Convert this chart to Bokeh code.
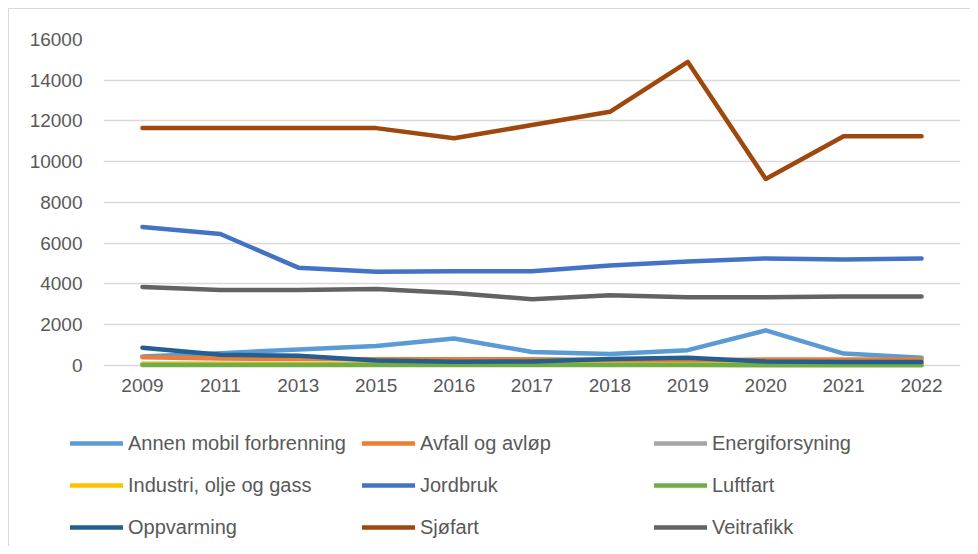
from bokeh.plotting import figure
from bokeh.layouts import column
from bokeh.models import Range1d, FixedTicker, Legend, LegendItem
from bokeh.embed import file_html
from bokeh.resources import INLINE

years = ["2009", "2011", "2013", "2015", "2016", "2017", "2018", "2019", "2020", "2021", "2022"]

names = ["Annen mobil forbrenning", "Avfall og avløp", "Energiforsyning",
         "Industri, olje og gass", "Jordbruk", "Luftfart",
         "Oppvarming", "Sjøfart", "Veitrafikk"]
colors = ["#5B9BD5", "#ED7D31", "#A5A5A5", "#FFC000", "#4472C4", "#70AD47",
          "#255E91", "#9E480E", "#636363"]

annen = [440, 600, 780, 950, 1320, 660, 560, 750, 1720, 580, 380]
avfall = [400, 340, 320, 300, 300, 300, 260, 240, 290, 290, 290]
energi = [80, 80, 70, 70, 60, 60, 60, 60, 50, 50, 50]
industri = [60, 60, 60, 50, 50, 50, 50, 50, 40, 40, 40]
jordbruk = [6800, 6450, 4800, 4600, 4620, 4620, 4900, 5100, 5250, 5200, 5250]
luftfart = [20, 20, 20, 20, 20, 20, 20, 20, 10, 10, 10]
oppvarming = [870, 520, 470, 240, 180, 190, 320, 370, 190, 170, 170]
sjofart = [11650, 11650, 11650, 11650, 11150, 11800, 12450, 14900, 9150, 11250, 11250]
veitrafikk = [3850, 3700, 3700, 3750, 3550, 3250, 3450, 3350, 3350, 3380, 3380]

series = [annen, avfall, energi, industri, jordbruk, luftfart, oppvarming, sjofart, veitrafikk]
y_ticks = [0, 2000, 4000, 6000, 8000, 10000, 12000, 14000, 16000]

FONT = "Liberation Sans"
TXT = "#595959"

# main chart
p = figure(x_range=years, y_range=Range1d(-250, 16000),
           width=961, height=391,
           output_backend="svg", toolbar_location=None,
           min_border_left=94, min_border_right=10,
           min_border_top=30, min_border_bottom=30)
p.frame_align = False

p.outline_line_color = None
p.xgrid.visible = False
p.ygrid.grid_line_color = "#d9d9d9"
p.ygrid.grid_line_width = 1.3
p.yaxis.ticker = FixedTicker(ticks=y_ticks)

for ax in (p.xaxis, p.yaxis):
    ax.axis_line_color = None
    ax.major_tick_line_color = None
    ax.minor_tick_line_color = None
    ax.major_tick_out = 0
    ax.major_tick_in = 0
    ax.minor_tick_out = 0
    ax.major_label_text_color = TXT
    ax.major_label_text_font = FONT
    ax.major_label_text_font_size = "19px"
p.yaxis.major_label_standoff = 21
p.xaxis.major_label_standoff = 8

for col, vals in zip(colors, series):
    p.line(x=years, y=vals, line_color=col, line_width=4.5,
           line_cap="round", line_join="round")

# legend strip (its lines lie outside the visible range; only the legend shows)
pl = figure(x_range=years, y_range=Range1d(1e6, 2e6),
            width=961, height=146,
            output_backend="svg", toolbar_location=None,
            x_axis_type=None, y_axis_type=None,
            min_border_left=0, min_border_right=0,
            min_border_top=0, min_border_bottom=0)
pl.frame_align = False
pl.outline_line_color = None
pl.grid.visible = False

items = []
for name, col, vals in zip(names, colors, series):
    r = pl.line(x=years, y=vals, line_color=col, line_width=4.5,
                line_cap="round", line_join="round")
    items.append(LegendItem(label=name, renderers=[r]))

legend = Legend(items=items, ncols=3, orientation="horizontal",
                location=(61, 6),
                padding=0, margin=0, spacing=16,
                glyph_width=53, glyph_height=26, label_height=26,
                label_width=218, label_standoff=5,
                label_text_font=FONT, label_text_font_size="20px",
                label_text_color=TXT,
                border_line_color=None, background_fill_alpha=0)
pl.add_layout(legend, "center")

layout = column(p, pl, spacing=0,
                styles={"margin-left": "8px", "margin-top": "8px",
                        "border-left": "1px solid #d9d9d9", "border-top": "1px solid #d9d9d9"})

open("out.html", "w").write(file_html(layout, INLINE))
